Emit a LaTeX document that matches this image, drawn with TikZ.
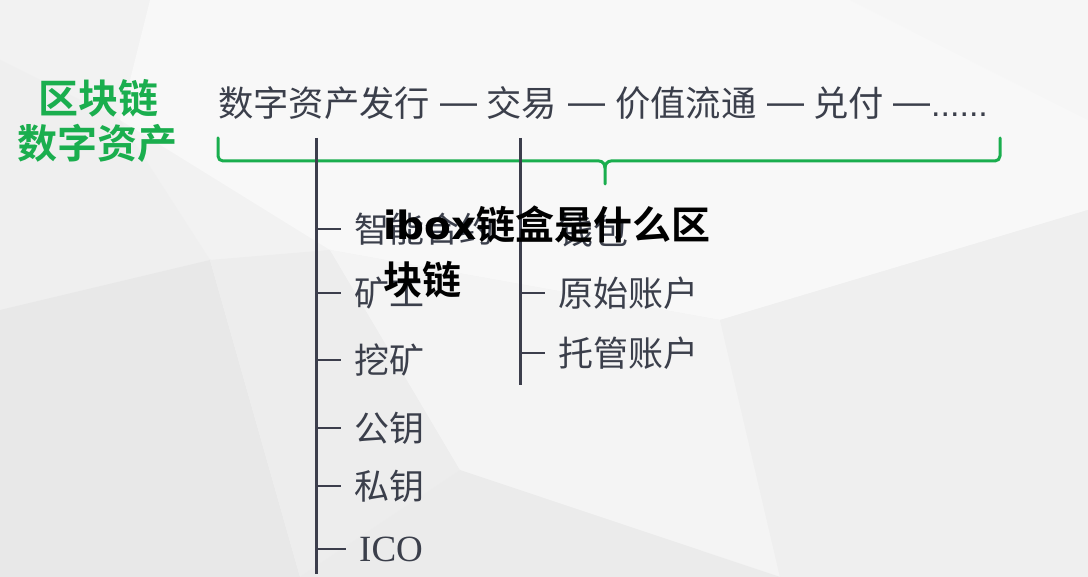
\documentclass[tikz,border=0pt]{standalone}
\usepackage{fontspec}
\newfontfamily\cjk{Noto Sans CJK SC}[BoldFont={Noto Sans CJK SC Bold}]
\newfontfamily\latb{DejaVu Sans Bold}
\newfontfamily\serifl{Liberation Serif}
\newfontfamily\sansl{Liberation Sans}
\definecolor{txt}{HTML}{3B3F4B}
\definecolor{trunk}{HTML}{3C3E4C}
\definecolor{grn}{HTML}{1AAE4E}
\tikzset{
  title/.style={text=grn,font=\cjk\bfseries\fontsize{40}{44}\selectfont,inner sep=0pt},
  flow/.style={text=txt,font=\cjk\fontsize{35.3}{40}\selectfont,inner sep=0pt,anchor=west},
  dashtxt/.style={text=txt,font=\sansl\fontsize{37}{40}\selectfont,inner sep=0pt,anchor=base west},
  item/.style={text=txt,font=\cjk\fontsize{35}{40}\selectfont,inner sep=0pt,anchor=west},
  overlay/.style={text=black,font=\cjk\bfseries\fontsize{39}{55}\selectfont,inner sep=0pt,anchor=north west,align=left},
  bracket/.style={draw=grn,line width=3pt,line cap=round,line join=round},
  trunkline/.style={draw=trunk,line width=3pt},
  ticks/.style={draw=trunk,line width=2.6pt}
}
\begin{document}
\begin{tikzpicture}[x=1pt,y=-1pt]
\useasboundingbox (0,0) rectangle (1088,577);
% background
\fill[color={rgb,255:red,242;green,242;blue,242}] (0,0) rectangle (1088,577);
\fill[color={rgb,255:red,248;green,248;blue,248}] (150,0) -- (1088,0) -- (1088,210) -- (720,320) -- (330,250) -- (120,120) -- cycle;
\fill[color={rgb,255:red,239;green,239;blue,239}] (0,60) -- (120,120) -- (210,260) -- (0,310) -- cycle;
\fill[color={rgb,255:red,232;green,232;blue,232}] (0,310) -- (210,260) -- (300,577) -- (0,577) -- cycle;
\fill[color={rgb,255:red,237;green,237;blue,237}] (210,260) -- (330,250) -- (460,470) -- (300,577) -- cycle;
\fill[color={rgb,255:red,244;green,244;blue,244}] (330,250) -- (720,320) -- (780,577) -- (460,470) -- cycle;
\fill[color={rgb,255:red,239;green,239;blue,239}] (720,320) -- (1088,210) -- (1088,577) -- (780,577) -- cycle;
\fill[color={rgb,255:red,235;green,235;blue,235}] (460,470) -- (780,577) -- (300,577) -- cycle;
\fill[color={rgb,255:red,246;green,246;blue,246}] (850,0) -- (1088,0) -- (1088,120) -- cycle;

% title
\node[title] (t1) at (98,98) {区块链};
\node[title] (t2) at (97,143) {数字资产};

% flow line
\node[flow] (w1) at (218,103) {数字资产发行};
\node[dashtxt] (d1) at (440,115) {—};
\node[flow] (w2) at (486,103) {交易};
\node[dashtxt] (d2) at (568,115) {—};
\node[flow] (w3) at (615,103) {价值流通};
\node[dashtxt] (d3) at (767,115) {—};
\node[flow] (w4) at (813,103) {兑付};
\node[dashtxt] (d4) at (893,115) {—};
\node[dashtxt,font=\sansl\fontsize{34}{40}\selectfont] (w5) at (931,117) {......};

% bracket
\coordinate (bl) at (218,138);
\coordinate (bm) at (605,184);
\coordinate (br) at (1000,138);
\draw[bracket] (bl) -- (218,156) to[out=-90,in=180] (223,161) -- (599,161) to[out=0,in=90] (605,168) -- (bm);
\draw[bracket] (605,168) to[out=90,in=180] (611,161) -- (995,161) to[out=0,in=-90] (1000,156) -- (br);

% trunks
\coordinate (L0) at (316,138);
\coordinate (L1) at (316,574);
\coordinate (R0) at (520,138);
\coordinate (R1) at (520,385);
\draw[trunkline] (L0) -- (L1);
\draw[trunkline] (R0) -- (R1);

% left items
\node[item] (a1) at (354,229) {智能合约};
\node[item] (a2) at (354,293) {矿工};
\node[item] (a3) at (354,360) {挖矿};
\node[item] (a4) at (354,428) {公钥};
\node[item] (a5) at (354,486) {私钥};
\node[item,font=\serifl\fontsize{37}{44}\selectfont] (a6) at (359,549) {ICO};
\foreach \n in {a1,a2,a3,a4,a5,a6}
  \draw[ticks] (L0 |- \n.west) -- ([xshift=-13pt]\n.west);

% right items
\node[item] (b1) at (558,231) {钱包};
\node[item] (b2) at (558,293) {原始账户};
\node[item] (b3) at (558,353) {托管账户};
\foreach \n in {b1,b2,b3}
  \draw[ticks] (R0 |- \n.west) -- ([xshift=-13pt]\n.west);

% overlay title
\node[overlay] (ov) at (383,206) {{\latb ibox}链盒是什么区\\块链};
\end{tikzpicture}
\end{document}
